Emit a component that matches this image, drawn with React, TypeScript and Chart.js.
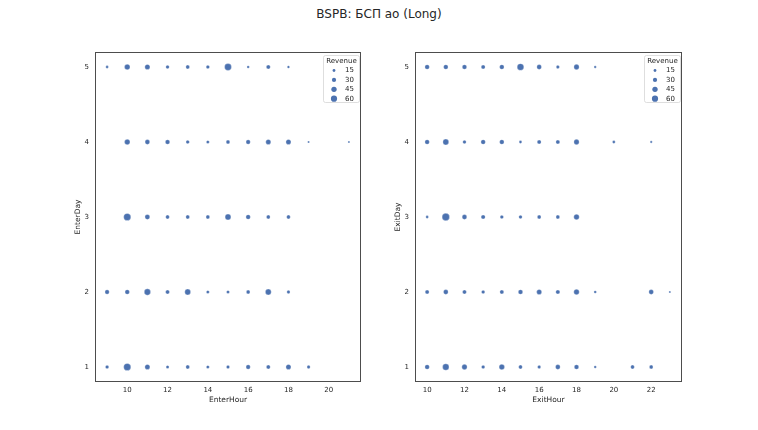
import React, { useEffect, useRef } from "react";
import { Chart, registerables } from "chart.js";

Chart.register(...registerables);

const TITLE = "BSPB: БСП ao (Long)";

// Left panel: EnterHour vs EnterDay, point size = Revenue
const enterHour = [
  9, 10, 11, 12, 13, 14, 15, 16, 17, 18,
  10, 11, 12, 13, 14, 15, 16, 17, 18, 19, 21,
  10, 11, 12, 13, 14, 15, 16, 17, 18,
  9, 10, 11, 12, 13, 14, 15, 16, 17, 18,
  9, 10, 11, 12, 13, 14, 15, 16, 17, 18, 19,
];
const enterDay = [
  5, 5, 5, 5, 5, 5, 5, 5, 5, 5,
  4, 4, 4, 4, 4, 4, 4, 4, 4, 4, 4,
  3, 3, 3, 3, 3, 3, 3, 3, 3,
  2, 2, 2, 2, 2, 2, 2, 2, 2, 2,
  1, 1, 1, 1, 1, 1, 1, 1, 1, 1, 1,
];
const enterRevenue = [
  15, 49, 43, 22, 25, 22, 74, 13, 29, 13,
  48, 38, 35, 22, 18, 25, 32, 42, 42, 10, 10,
  80, 40, 25, 25, 25, 55, 35, 25, 25,
  32, 35, 62, 28, 55, 18, 18, 25, 55, 20,
  22, 80, 42, 18, 25, 18, 20, 32, 28, 42, 20,
];

// Right panel: ExitHour vs ExitDay
const exitHour = [
  10, 11, 12, 13, 14, 15, 16, 17, 18, 19,
  10, 11, 12, 13, 14, 15, 16, 17, 18, 20, 22,
  10, 11, 12, 13, 14, 15, 16, 17, 18,
  10, 11, 12, 13, 14, 15, 16, 17, 18, 19, 22, 23,
  10, 11, 12, 13, 14, 15, 16, 17, 18, 19, 21, 22,
];
const exitDay = [
  5, 5, 5, 5, 5, 5, 5, 5, 5, 5,
  4, 4, 4, 4, 4, 4, 4, 4, 4, 4, 4,
  3, 3, 3, 3, 3, 3, 3, 3, 3,
  2, 2, 2, 2, 2, 2, 2, 2, 2, 2, 2, 2,
  1, 1, 1, 1, 1, 1, 1, 1, 1, 1, 1, 1,
];
const exitRevenue = [
  35, 35, 35, 28, 35, 70, 38, 20, 45, 12,
  35, 55, 22, 35, 35, 16, 28, 28, 45, 16, 11,
  15, 85, 38, 30, 22, 22, 25, 25, 48,
  28, 38, 28, 22, 28, 35, 42, 30, 48, 14, 38, 10,
  35, 65, 45, 22, 48, 25, 20, 38, 35, 13, 25, 25,
];

const enterHourTicks = [10, 12, 14, 16, 18, 20];
const exitHourTicks = [10, 12, 14, 16, 18, 20, 22];
const dayTicks = [1, 2, 3, 4, 5];
const legendRevenue = [15, 30, 45, 60];

const BLUE = "#4c72b0";
const FONT = "'DejaVu Sans', sans-serif";
const TEXT = "#262626";

function radiusOf(rev: number): number {
  return Math.sqrt(Math.max(0.6, -0.6 + 0.17 * rev));
}

const boxLegendPlugin = {
  id: "boxLegend",
  afterDraw(chart: any) {
    const { ctx, chartArea } = chart;
    const { left, right, top, bottom } = chartArea;
    ctx.save();
    ctx.strokeStyle = "#4d4d4d";
    ctx.lineWidth = 1;
    ctx.strokeRect(left + 0.5, top + 0.5, right - left - 1, bottom - top - 1);

    // legend box
    const bw = 36;
    const bh = 47;
    const bx = right - bw - 2;
    const by = top + 3;
    ctx.fillStyle = "rgba(255,255,255,0.85)";
    ctx.strokeStyle = "#d6d6d6";
    ctx.lineWidth = 0.8;
    ctx.beginPath();
    (ctx as any).roundRect(bx + 0.5, by + 0.5, bw, bh, 2);
    ctx.fill();
    ctx.stroke();

    ctx.fillStyle = TEXT;
    ctx.font = `7px ${FONT}`;
    ctx.textAlign = "center";
    ctx.textBaseline = "middle";
    ctx.fillText("Revenue", bx + bw / 2 + 0.5, by + 6);
    legendRevenue.forEach((rv, i) => {
      const cy = by + 15.5 + i * 9.4;
      ctx.beginPath();
      ctx.fillStyle = BLUE;
      ctx.arc(bx + 11, cy, radiusOf(rv), 0, Math.PI * 2);
      ctx.fill();
      ctx.fillStyle = TEXT;
      ctx.textAlign = "left";
      ctx.fillText(String(rv), bx + 22, cy);
    });
    ctx.restore();
  },
};

type PanelProps = {
  hours: number[];
  days: number[];
  revenue: number[];
  hourTicks: number[];
  xLabel: string;
  yLabel: string;
  xMin: number;
  xMax: number;
  left: number;
  rightPad: number;
};

function Panel(p: PanelProps) {
  const ref = useRef<HTMLCanvasElement | null>(null);
  useEffect(() => {
    if (!ref.current) return;
    const points = p.hours.map((h, i) => ({ x: h, y: p.days[i] }));
    const radii = p.revenue.map((r) => radiusOf(r));
    const chart = new Chart(ref.current, {
      type: "scatter",
      data: {
        datasets: [
          {
            data: points,
            backgroundColor: BLUE,
            borderColor: "rgba(255,255,255,0.7)",
            borderWidth: 0.4,
            pointRadius: radii,
            pointHoverRadius: radii,
          },
        ],
      },
      plugins: [boxLegendPlugin],
      options: {
        animation: false,
        responsive: false,
        devicePixelRatio: 1,
        layout: { padding: { top: 7, right: p.rightPad, left: 0, bottom: 0 } },
        plugins: { legend: { display: false }, tooltip: { enabled: false } },
        scales: {
          x: {
            type: "linear",
            min: p.xMin,
            max: p.xMax,
            grid: { display: false, drawTicks: false },
            border: { display: false },
            afterBuildTicks: (s: any) => {
              s.ticks = p.hourTicks.map((v) => ({ value: v }));
            },
            afterFit: (s: any) => {
              s.height = 33;
              s.paddingLeft = 0;
              s.paddingRight = 0;
            },
            ticks: {
              padding: 4,
              color: TEXT,
              font: { family: FONT, size: 7 },
              maxRotation: 0,
              autoSkip: false,
            },
            title: {
              display: true,
              text: p.xLabel,
              color: TEXT,
              font: { family: FONT, size: 7.5 },
              padding: { top: 0, bottom: 10 },
            },
          },
          y: {
            type: "linear",
            min: 0.8,
            max: 5.2,
            grid: { display: false, drawTicks: false },
            border: { display: false },
            afterBuildTicks: (s: any) => {
              s.ticks = dayTicks.map((v) => ({ value: v }));
            },
            afterFit: (s: any) => {
              s.width = 35;
              s.paddingTop = 0;
              s.paddingBottom = 0;
            },
            ticks: {
              padding: 6,
              color: TEXT,
              font: { family: FONT, size: 7 },
              autoSkip: false,
            },
            title: {
              display: true,
              text: p.yLabel,
              color: TEXT,
              font: { family: FONT, size: 7.5 },
              padding: { top: 14, bottom: 0 },
            },
          },
        },
      } as any,
    });
    return () => chart.destroy();
  }, []);
  return (
    <canvas
      ref={ref}
      width={310}
      height={370}
      style={{ position: "absolute", left: p.left, top: 45, width: 310, height: 370 }}
    />
  );
}

export default function App() {
  return (
    <div
      style={{
        position: "absolute",
        left: 0,
        top: 0,
        width: 758,
        height: 430,
        background: "#ffffff",
        overflow: "hidden",
      }}
    >
      <div
        style={{
          position: "absolute",
          left: 0,
          top: 6,
          width: 758,
          textAlign: "center",
          fontFamily: FONT,
          fontSize: 12,
          color: TEXT,
          lineHeight: "16px",
        }}
      >
        {TITLE}
      </div>
      <Panel
        hours={enterHour}
        days={enterDay}
        revenue={enterRevenue}
        hourTicks={enterHourTicks}
        xLabel="EnterHour"
        yLabel="EnterDay"
        xMin={8.4}
        xMax={21.6}
        left={60}
        rightPad={9}
      />
      <Panel
        hours={exitHour}
        days={exitDay}
        revenue={exitRevenue}
        hourTicks={exitHourTicks}
        xLabel="ExitHour"
        yLabel="ExitDay"
        xMin={9.35}
        xMax={23.65}
        left={380}
        rightPad={8}
      />
    </div>
  );
}
